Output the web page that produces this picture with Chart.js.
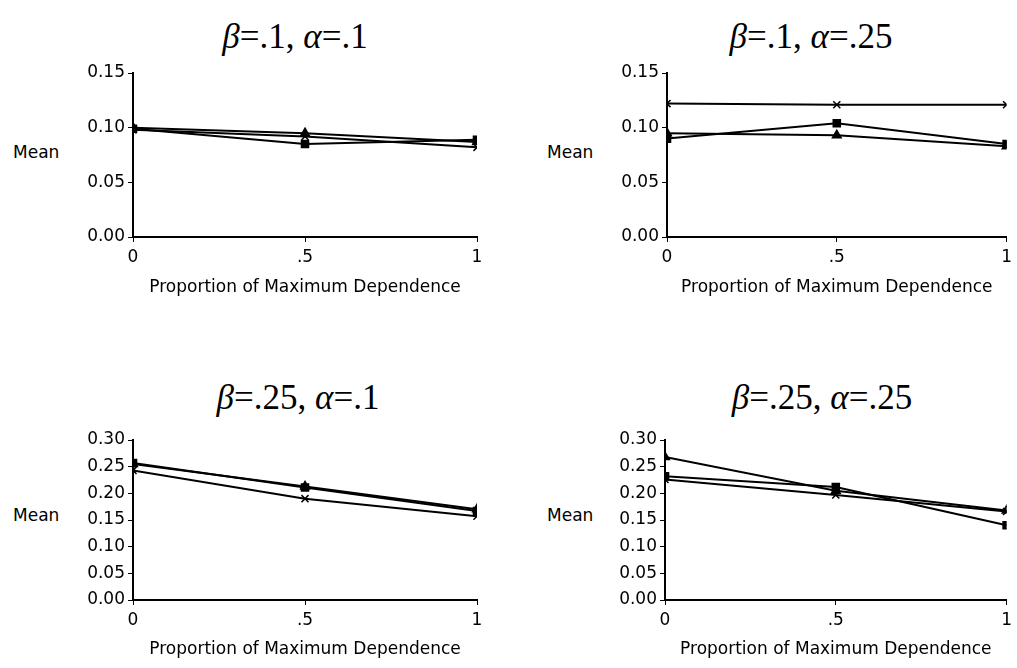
<!DOCTYPE html>
<html>
<head>
<meta charset="utf-8">
<script src="https://cdn.jsdelivr.net/npm/chart.js@4"></script>
<style>
    body { margin: 0; background: #fff; }
    #page { position: relative; width: 1017px; height: 668px; overflow: hidden; }
    .box { position: absolute; }
    .ttl { position: absolute; font-family: "Liberation Serif", serif; font-size: 35px; color: #000;
           transform: translate(-50%, -50%); white-space: nowrap; }
    .mean { position: absolute; font-family: "DejaVu Sans", sans-serif; font-size: 17px; color: #000;
            transform: translateY(-50%); }
</style>
</head>
<body>
<div id="page">
    <div class="ttl" style="left:295px; top:37px;"><i>β</i>=.1, <i>α</i>=.1</div>
    <div class="ttl" style="left:811px; top:37px;"><i>β</i>=.1, <i>α</i>=.25</div>
    <div class="ttl" style="left:298px; top:398px;"><i>β</i>=.25, <i>α</i>=.1</div>
    <div class="ttl" style="left:822px; top:398px;"><i>β</i>=.25, <i>α</i>=.25</div>

    <div class="mean" style="left:13px; top:152px;">Mean</div>
    <div class="mean" style="left:547px; top:152px;">Mean</div>
    <div class="mean" style="left:13px; top:515px;">Mean</div>
    <div class="mean" style="left:547px; top:515px;">Mean</div>

    <div class="box" style="left:0px; top:0px; width:508px; height:298px;"><canvas id="c1"></canvas></div>
    <div class="box" style="left:508px; top:0px; width:509px; height:298px;"><canvas id="c2"></canvas></div>
    <div class="box" style="left:0px; top:360px; width:508px; height:300px;"><canvas id="c3"></canvas></div>
    <div class="box" style="left:508px; top:360px; width:509px; height:300px;"><canvas id="c4"></canvas></div>
</div>
<script>
// x positions: proportion of maximum dependence
var xValues = [0, 0.5, 1];
var xTickLabels = ["0", ".5", "1"];

// beta=.1, alpha=.1
var b1a1Square   = [0.099, 0.085, 0.089];
var b1a1Triangle = [0.100, 0.095, 0.087];
var b1a1Cross    = [0.098, 0.092, 0.082];

// beta=.1, alpha=.25
var b1a25Square   = [0.090, 0.104, 0.085];
var b1a25Triangle = [0.095, 0.093, 0.083];
var b1a25Cross    = [0.122, 0.121, 0.121];

// beta=.25, alpha=.1
var b25a1Square   = [0.257, 0.211, 0.167];
var b25a1Triangle = [0.255, 0.213, 0.170];
var b25a1Cross    = [0.243, 0.190, 0.157];

// beta=.25, alpha=.25
var b25a25Square   = [0.232, 0.212, 0.140];
var b25a25Triangle = [0.268, 0.205, 0.168];
var b25a25Cross    = [0.226, 0.197, 0.166];

var tickFont = { family: "DejaVu Sans", size: 17 };

var makeSet = function(vals, style, r) {
    return {
        data: vals.map(function(v, i) { return { x: xValues[i], y: v }; }),
        borderColor: "#000",
        backgroundColor: "#000",
        borderWidth: 2,
        pointStyle: style,
        pointRadius: r,
        pointBorderWidth: 1.5,
        tension: 0
    };
};

var makeChart = function(id, sets, yMax, yWidth, rightPad, topPad, xHeight) {
    var ctx = document.getElementById(id);
    new Chart(ctx, {
        type: 'line',
        data: {
            datasets: [
                makeSet(sets[0], 'rect', 5),
                makeSet(sets[1], 'triangle', 5),
                makeSet(sets[2], 'crossRot', 5)
            ]
        },
        options: {
            responsive: true,
            maintainAspectRatio: false,
            animation: false,
            layout: { padding: { top: topPad, right: rightPad, left: 0, bottom: 0 } },
            plugins: { legend: { display: false }, tooltip: { enabled: false } },
            scales: {
                x: {
                    type: 'linear',
                    min: 0,
                    max: 1,
                    afterFit: function(s) { s.height = xHeight; },
                    ticks: {
                        stepSize: 0.5,
                        color: "#000",
                        font: tickFont,
                        padding: 5,
                        maxRotation: 0,
                        callback: function(v) {
                            var i = xValues.indexOf(v);
                            return i >= 0 ? xTickLabels[i] : "";
                        }
                    },
                    grid: { drawOnChartArea: false, color: "#000", tickLength: 5, lineWidth: 1 },
                    border: { color: "#000", width: 2 },
                    title: {
                        display: true,
                        text: "Proportion of Maximum Dependence",
                        color: "#000",
                        font: tickFont,
                        padding: 0
                    }
                },
                y: {
                    min: 0,
                    max: yMax,
                    afterFit: function(s) { s.width = yWidth; },
                    ticks: {
                        stepSize: 0.05,
                        color: "#000",
                        font: tickFont,
                        padding: 3,
                        callback: function(v) { return v.toFixed(2); }
                    },
                    grid: { drawOnChartArea: false, color: "#000", tickLength: 5, lineWidth: 1 },
                    border: { color: "#000", width: 2 }
                }
            }
        }
    });
};

makeChart("c1", [b1a1Square, b1a1Triangle, b1a1Cross], 0.15, 133, 31, 73, 61);
makeChart("c2", [b1a25Square, b1a25Triangle, b1a25Cross], 0.15, 159, 8, 73, 61);
makeChart("c3", [b25a1Square, b25a1Triangle, b25a1Cross], 0.30, 133, 31, 80, 60);
makeChart("c4", [b25a25Square, b25a25Triangle, b25a25Cross], 0.30, 157, 10, 80, 60);
</script>
</body>
</html>
